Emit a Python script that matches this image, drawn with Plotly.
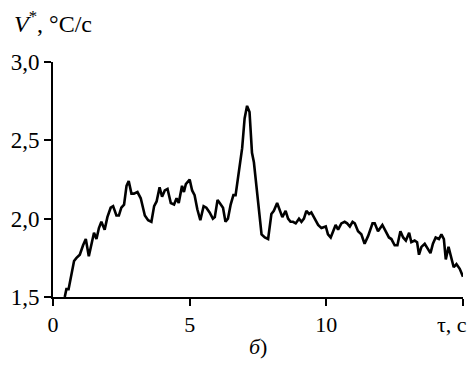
import plotly.graph_objects as go

# time, s
tau = [0.43, 0.49, 0.57, 0.67, 0.77, 0.86, 0.98, 1.10, 1.20, 1.31, 1.41, 1.50, 1.59, 1.68, 1.77, 1.89,
       1.99, 2.11, 2.20, 2.32, 2.41, 2.50, 2.60, 2.69, 2.77, 2.87, 2.96, 3.09, 3.21, 3.36, 3.48, 3.60,
       3.70, 3.79, 3.90, 3.99, 4.09, 4.19, 4.31, 4.43, 4.52, 4.60, 4.72, 4.79, 4.86, 5.00, 5.09, 5.18,
       5.28, 5.39, 5.51, 5.61, 5.73, 5.85, 5.92, 6.02, 6.10, 6.22, 6.31, 6.40, 6.50, 6.60, 6.68, 6.81,
       6.92, 7.01, 7.10, 7.19, 7.28, 7.35, 7.50, 7.63, 7.75, 7.87, 7.99, 8.08, 8.20, 8.29, 8.39, 8.51,
       8.60, 8.69, 8.78, 8.88, 9.00, 9.09, 9.18, 9.27, 9.37, 9.45, 9.58, 9.70, 9.82, 9.98, 10.06, 10.16,
       10.25, 10.34, 10.43, 10.55, 10.67, 10.76, 10.86, 10.96, 11.04, 11.16, 11.28, 11.40, 11.53, 11.69,
       11.77, 11.89, 12.05, 12.17, 12.29, 12.38, 12.50, 12.60, 12.71, 12.81, 12.91, 13.03, 13.11, 13.23,
       13.32, 13.39, 13.48, 13.60, 13.72, 13.81, 13.90, 14.00, 14.12, 14.21, 14.30, 14.37, 14.47, 14.58,
       14.66, 14.76, 14.88, 15.00]

# V*, °C/s
v_star = [1.50, 1.55, 1.55, 1.63, 1.73, 1.75, 1.77, 1.83, 1.87, 1.76, 1.84, 1.91, 1.87, 1.94, 1.98, 1.93,
          2.01, 2.07, 2.08, 2.02, 2.02, 2.07, 2.09, 2.21, 2.24, 2.16, 2.16, 2.17, 2.13, 2.02, 1.99, 1.98,
          2.08, 2.11, 2.20, 2.14, 2.18, 2.19, 2.10, 2.09, 2.13, 2.10, 2.21, 2.17, 2.22, 2.25, 2.18, 2.15,
          2.06, 1.99, 2.08, 2.07, 2.04, 2.00, 2.01, 2.12, 2.10, 2.07, 1.98, 2.00, 2.09, 2.15, 2.15, 2.32,
          2.45, 2.64, 2.72, 2.68, 2.42, 2.36, 2.12, 1.90, 1.88, 1.87, 2.03, 2.05, 2.10, 2.05, 2.01, 2.05,
          2.00, 1.98, 1.98, 1.97, 2.00, 1.98, 2.00, 2.05, 2.03, 2.04, 2.00, 1.96, 1.94, 1.95, 1.90, 1.88,
          1.92, 1.96, 1.93, 1.97, 1.98, 1.97, 1.95, 1.98, 1.97, 1.92, 1.90, 1.84, 1.89, 1.97,
          1.97, 1.92, 1.96, 1.92, 1.88, 1.87, 1.83, 1.83, 1.92, 1.88, 1.86, 1.91, 1.85, 1.86,
          1.85, 1.77, 1.82, 1.84, 1.81, 1.78, 1.84, 1.88, 1.87, 1.90, 1.87, 1.74, 1.82, 1.74,
          1.69, 1.71, 1.68, 1.63]

x_ticks = [0, 5, 10, 15]
x_tick_labels = ["0", "5", "10", ""]
y_ticks = [1.5, 2.0, 2.5, 3.0]

FONT = "Liberation Serif, Times New Roman, serif"

fig = go.Figure()
fig.add_trace(go.Scatter(x=tau, y=v_star, mode="lines",
                         line=dict(color="black", width=2.6), showlegend=False))

fig.update_layout(
    width=476, height=372,
    margin=dict(l=45, r=21, t=54, b=83),
    paper_bgcolor="white", plot_bgcolor="white",
    separators=", ",
    font=dict(family=FONT, size=23, color="black"),
    xaxis=dict(range=[0, 15], tickvals=x_ticks, ticktext=x_tick_labels, automargin=False,
               showgrid=False, zeroline=False, showline=True, linecolor="black", linewidth=2,
               ticks="outside", ticklen=7, tickwidth=2, tickcolor="black",
               tickfont=dict(family=FONT, size=22, color="black")),
    yaxis=dict(range=[1.5, 3.0], tickvals=y_ticks, tickformat=".1f", automargin=False,
               showgrid=False, zeroline=False, showline=True, linecolor="black", linewidth=2,
               ticks="outside", ticklen=7, tickwidth=2, tickcolor="black",
               tickfont=dict(family=FONT, size=23, color="black")),
    annotations=[
        dict(text="<i>V</i><sup>*</sup>, °C/с", xref="paper", yref="paper",
             x=-0.1, y=1.098, xanchor="left", yanchor="bottom", showarrow=False,
             font=dict(family=FONT, size=24, color="black")),
        dict(text="τ, с", xref="paper", yref="paper",
             x=1.014, y=-0.055, xanchor="right", yanchor="top", showarrow=False,
             font=dict(family=FONT, size=22, color="black")),
        dict(text="<i>б</i>)", xref="paper", yref="paper",
             x=0.5, y=-0.15, xanchor="center", yanchor="top", showarrow=False,
             font=dict(family=FONT, size=22, color="black")),
    ],
)

fig.write_html("out.html")
